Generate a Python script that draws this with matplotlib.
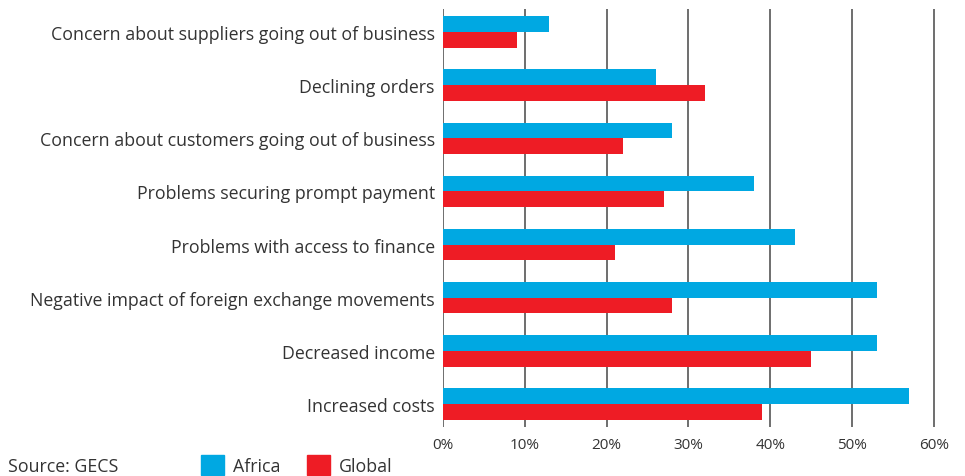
import numpy as np
import matplotlib.pyplot as plt
import matplotlib.patches as mpatches

categories = [
    'Concern about suppliers going out of business',
    'Declining orders',
    'Concern about customers going out of business',
    'Problems securing prompt payment',
    'Problems with access to finance',
    'Negative impact of foreign exchange movements',
    'Decreased income',
    'Increased costs',
]
africa = [13, 26, 28, 38, 43, 53, 53, 57]
global_ = [9, 32, 22, 27, 21, 28, 45, 39]
xticks = [0, 10, 20, 30, 40, 50, 60]

BLUE = '#00A8E2'
RED = '#EE1C25'
TXT = '#333333'

plt.rcParams['font.family'] = ['Open Sans', 'DejaVu Sans']

fig = plt.figure(figsize=(9.65, 4.77), dpi=100)
ax = fig.add_axes([443 / 965, 1 - 428 / 477, (960 - 443) / 965, (428 - 10) / 477])

y = np.arange(len(categories))
h = 0.3
ax.barh(y - h / 2, africa, height=h, color=BLUE, zorder=3)
ax.barh(y + h / 2, global_, height=h, color=RED, zorder=3)

ax.set_ylim(len(categories) - 1 + 0.44, -0.44)
ax.set_xlim(0, 63.2)
ax.set_xticks(xticks)
ax.set_xticklabels([f'{t}%' for t in xticks], fontsize=11, color=TXT)
ax.set_yticks(y)
ax.set_yticklabels(categories, fontsize=12.8, color=TXT)
ax.tick_params(axis='y', length=0, pad=6)
ax.tick_params(axis='x', length=0, pad=7)
ax.grid(axis='x', color='#555555', linewidth=1.2, zorder=0)
for s in ax.spines.values():
    s.set_visible(False)

fig.text(8 / 965, 1 - 467 / 477, 'Source: GECS', fontsize=12.8, color=TXT, va='center')
handles = [mpatches.Patch(color=BLUE, label='Africa'),
           mpatches.Patch(color=RED, label='Global')]
fig.legend(handles=handles, loc='center left', bbox_to_anchor=(185 / 965, 1 - 466 / 477),
           ncol=2, frameon=False, fontsize=12.8, handlelength=1.3, handleheight=1.3,
           columnspacing=1.5, handletextpad=0.5, labelcolor=TXT)

fig.savefig('out.png', dpi=100)
